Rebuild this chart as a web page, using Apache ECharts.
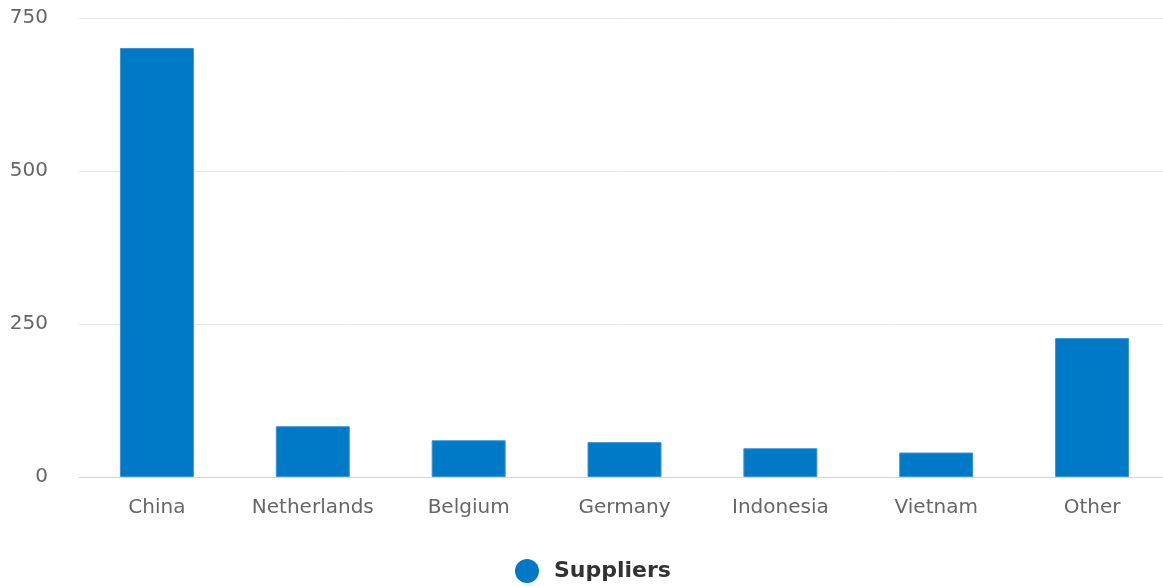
<!DOCTYPE html>
<html>
<head>
<meta charset="utf-8">
<script src="https://cdn.jsdelivr.net/npm/echarts@6/dist/echarts.min.js"></script>
<style>
  html, body { margin: 0; padding: 0; background: #fff; }
  #chart { width: 1163px; height: 586px; }
</style>
</head>
<body>
<div id="chart"></div>
<script>
  var countries = ['China', 'Netherlands', 'Belgium', 'Germany', 'Indonesia', 'Vietnam', 'Other'];
  var suppliers = [701, 83, 60, 57, 47, 40, 227];
  var yTicks = [0, 250, 500, 750];

  var myChart = echarts.init(document.getElementById('chart'));

  var option = {
    animation: false,
    textStyle: { fontFamily: 'DejaVu Sans' },
    grid: {
      left: 79,
      top: 18,
      width: 1091,
      height: 459,
      outerBoundsMode: 'none'
    },
    legend: {
      top: 559,
      left: 515,
      padding: 0,
      icon: 'circle',
      itemWidth: 24,
      itemHeight: 24,
      itemStyle: { borderWidth: 0 },
      textStyle: { color: '#333', fontSize: 22, fontWeight: 'bold', padding: [0, 0, 0, 10] },
      data: ['Suppliers']
    },
    xAxis: {
      type: 'category',
      data: countries,
      axisTick: { show: false },
      axisLine: { lineStyle: { color: '#ccd6eb', width: 1 } },
      axisLabel: { color: '#666', fontSize: 20, margin: 21, interval: 0 }
    },
    yAxis: {
      type: 'value',
      min: yTicks[0],
      max: yTicks[yTicks.length - 1],
      interval: 250,
      axisLine: { show: false },
      axisTick: { show: false },
      splitLine: { lineStyle: { color: '#e6e6e6', width: 1 } },
      axisLabel: { color: '#666', fontSize: 20, margin: 31, padding: [8, 0, 0, 0] }
    },
    series: [{
      name: 'Suppliers',
      type: 'bar',
      data: suppliers,
      barWidth: 74,
      itemStyle: { color: '#0079c6', borderColor: '#3d95d2', borderWidth: 1 }
    }]
  };

  myChart.setOption(option);
</script>
</body>
</html>
